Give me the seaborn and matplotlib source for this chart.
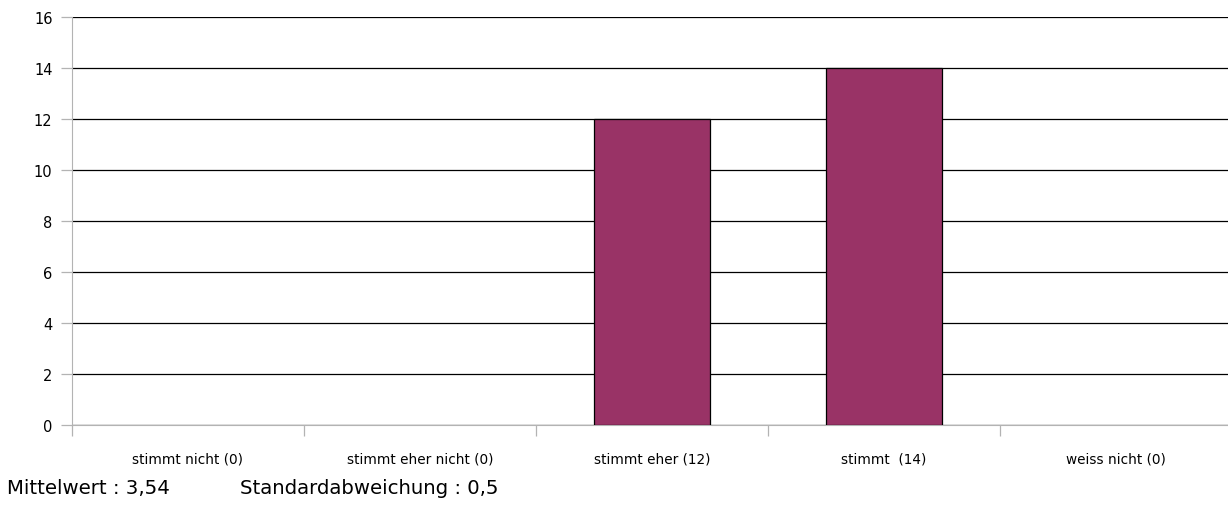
import seaborn as sns
import matplotlib.pyplot as plt
import pandas as pd

categories = ["stimmt nicht (0)", "stimmt eher nicht (0)", "stimmt eher (12)", "stimmt  (14)", "weiss nicht (0)"]
counts = [0, 0, 12, 14, 0]
y_ticks = [0, 2, 4, 6, 8, 10, 12, 14, 16]
mean_text = "Mittelwert : 3,54"
std_text = "Standardabweichung : 0,5"

df = pd.DataFrame({"Antwort": categories, "Anzahl": counts})

sns.set_style("white")
plt.rcParams["font.family"] = ["DejaVu Sans"]
plt.rcParams["text.color"] = "black"
plt.rcParams["xtick.color"] = "black"
plt.rcParams["ytick.color"] = "black"

fig = plt.figure(figsize=(12.28, 5.06), dpi=100)
ax = fig.add_axes([72 / 1228, 1 - 426 / 506, (1232 - 72) / 1228, (426 - 18) / 506])

sns.barplot(data=df, x="Antwort", y="Anzahl", order=categories, color="#993366",
            saturation=1, width=0.5, edgecolor="black", linewidth=0.9, ax=ax, zorder=3)

# leere Balken ohne Rand
for p in ax.patches:
    if p.get_height() == 0:
        p.set_linewidth(0)

ax.set_ylim(0, 16)
ax.set_xlim(-0.5, len(categories) - 0.5)
ax.set_yticks(y_ticks)
ax.yaxis.grid(True, color="black", linewidth=0.9, zorder=0)
ax.set_axisbelow(True)
ax.set_xlabel("")
ax.set_ylabel("")

for side in ["top", "right"]:
    ax.spines[side].set_visible(False)
ax.spines["left"].set_color("#b3b3b3")
ax.spines["bottom"].set_color("#b3b3b3")

ax.set_xticks(range(len(categories)))
ax.set_xticklabels(categories, fontsize=9.8)
ax.set_xticks([i - 0.5 for i in range(len(categories) + 1)], minor=True)
ax.tick_params(axis="x", which="major", bottom=True, length=0, pad=19)
ax.tick_params(axis="x", which="minor", bottom=True, length=8, color="#b3b3b3", width=0.9)
ax.tick_params(axis="y", left=True, length=8, color="#b3b3b3", width=0.9, labelsize=10.5, pad=6)

fig.text(7 / 1228, 1 - 489 / 506, mean_text, fontsize=14.2, va="center", ha="left")
fig.text(240 / 1228, 1 - 489 / 506, std_text, fontsize=14.2, va="center", ha="left")

fig.savefig("out.png", dpi=100)
